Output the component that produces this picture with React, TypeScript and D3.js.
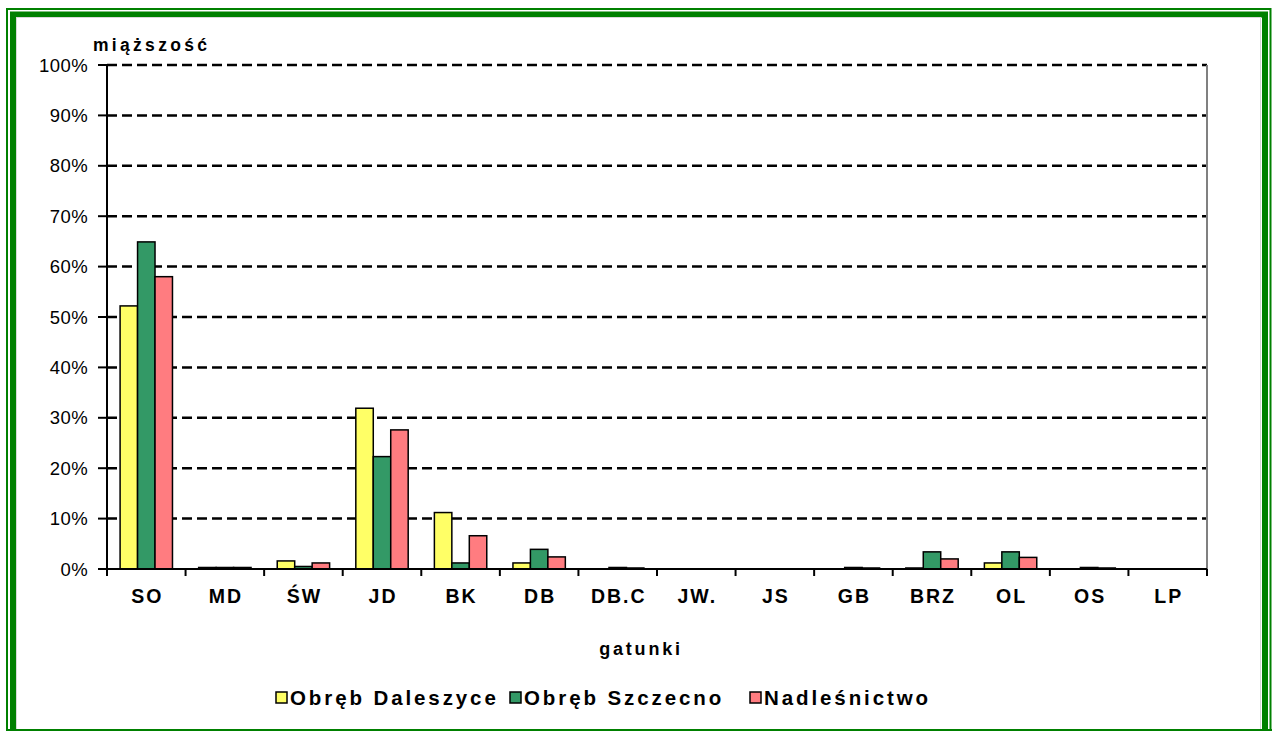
import React from "react";
import * as d3 from "d3";

const categories = ["SO", "MD", "ŚW", "JD", "BK", "DB", "DB.C", "JW.", "JS", "GB", "BRZ", "OL", "OS", "LP"];
const seriesNames = ["Obręb Daleszyce", "Obręb Szczecno", "Nadleśnictwo"];
const daleszyce = [52.2, 0.3, 1.6, 31.9, 11.2, 1.2, 0, 0, 0, 0, 0.2, 1.2, 0, 0];
const szczecno = [64.9, 0.3, 0.5, 22.3, 1.2, 3.9, 0.3, 0, 0, 0.3, 3.4, 3.4, 0.3, 0];
const nadlesnictwo = [58.0, 0.3, 1.2, 27.6, 6.6, 2.4, 0.2, 0, 0, 0.2, 2.0, 2.3, 0.2, 0];
const yTicks = [0, 10, 20, 30, 40, 50, 60, 70, 80, 90, 100];
const colors = ["#FFFF66", "#339966", "#FF7C80"];

const W = 1274, H = 731;
const left = 107, right = 1207, top = 65, bottom = 569;

export default function App() {
  const series = [daleszyce, szczecno, nadlesnictwo];
  const x = d3.scaleBand<string>().domain(categories).range([left, right]).paddingInner(0).paddingOuter(0);
  const bw = x.bandwidth() / 4.5;
  const y = d3.scaleLinear().domain([0, 100]).range([bottom, top]);
  const font = "Liberation Sans, Arial, sans-serif";
  const legendX = [276, 510, 750];
  return (
    <svg width={W} height={H} style={{ position: "absolute", left: 0, top: 0, background: "#fff" }} fontFamily={font}>
      {/* frame */}
      <rect x={7} y={9} width={1263.5} height={740} fill="none" stroke="#008000" strokeWidth={2} />
      <rect x={13} y={14.5} width={1252} height={740} fill="none" stroke="#008000" strokeWidth={6} />
      <rect x={16.5} y={17.5} width={1244} height={740} fill="none" stroke="#d8d8d8" strokeWidth={1} />
      <line x1={6} x2={1272} y1={730} y2={730} stroke="#008000" strokeWidth={2} />

      {/* gridlines */}
      {yTicks.filter(t => t > 0).map(t => (
        <line key={t} x1={left} x2={right} y1={y(t)} y2={y(t)} stroke="#000" strokeWidth={2.5} strokeDasharray="10,5" />
      ))}
      <line x1={right} x2={right} y1={top} y2={bottom} stroke="#808080" strokeWidth={2} />

      {/* bars */}
      {categories.map((c, i) => (
        <g key={c}>
          {series.map((s, j) => {
            const v = s[i];
            if (v <= 0) return null;
            const bx = (x(c) as number) + bw * 0.75 + j * bw;
            return <rect key={j} x={bx} y={y(v)} width={bw} height={bottom - y(v)} fill={colors[j]} stroke="#000" strokeWidth={1.5} />;
          })}
        </g>
      ))}

      {/* axes */}
      <line x1={left} x2={left} y1={top} y2={bottom} stroke="#000" strokeWidth={2} />
      <line x1={left} x2={right} y1={bottom} y2={bottom} stroke="#000" strokeWidth={2} />
      {yTicks.map(t => (
        <g key={t}>
          <line x1={98} x2={left} y1={y(t)} y2={y(t)} stroke="#000" strokeWidth={2} />
          <text x={88} y={y(t)} dy="0.36em" textAnchor="end" fontSize={18.5} letterSpacing={0.4}>{t}%</text>
        </g>
      ))}
      {categories.map((c, i) => (
        <line key={"t" + i} x1={x(c) as number} x2={x(c) as number} y1={bottom} y2={bottom + 7} stroke="#000" strokeWidth={2} />
      ))}
      <line x1={right} x2={right} y1={bottom} y2={bottom + 7} stroke="#000" strokeWidth={2} />
      {categories.map(c => (
        <text key={"l" + c} x={(x(c) as number) + x.bandwidth() / 2 + 1} y={596} dy="0.36em" textAnchor="middle" fontSize={19.5} fontWeight="bold" letterSpacing={2}>{c}</text>
      ))}

      <text x={93} y={45} dy="0.36em" fontSize={17.5} fontWeight="bold" letterSpacing={3.3}>miąższość</text>
      <text x={641} y={649} dy="0.36em" textAnchor="middle" fontSize={18} fontWeight="bold" letterSpacing={2.8}>gatunki</text>

      {/* legend */}
      {seriesNames.map((n, j) => (
        <g key={n}>
          <rect x={legendX[j]} y={692} width={11} height={11} fill={colors[j]} stroke="#000" strokeWidth={1.5} />
          <text x={legendX[j] + 14} y={698} dy="0.36em" fontSize={20.5} fontWeight="bold" letterSpacing={2.9}>{n}</text>
        </g>
      ))}
    </svg>
  );
}
